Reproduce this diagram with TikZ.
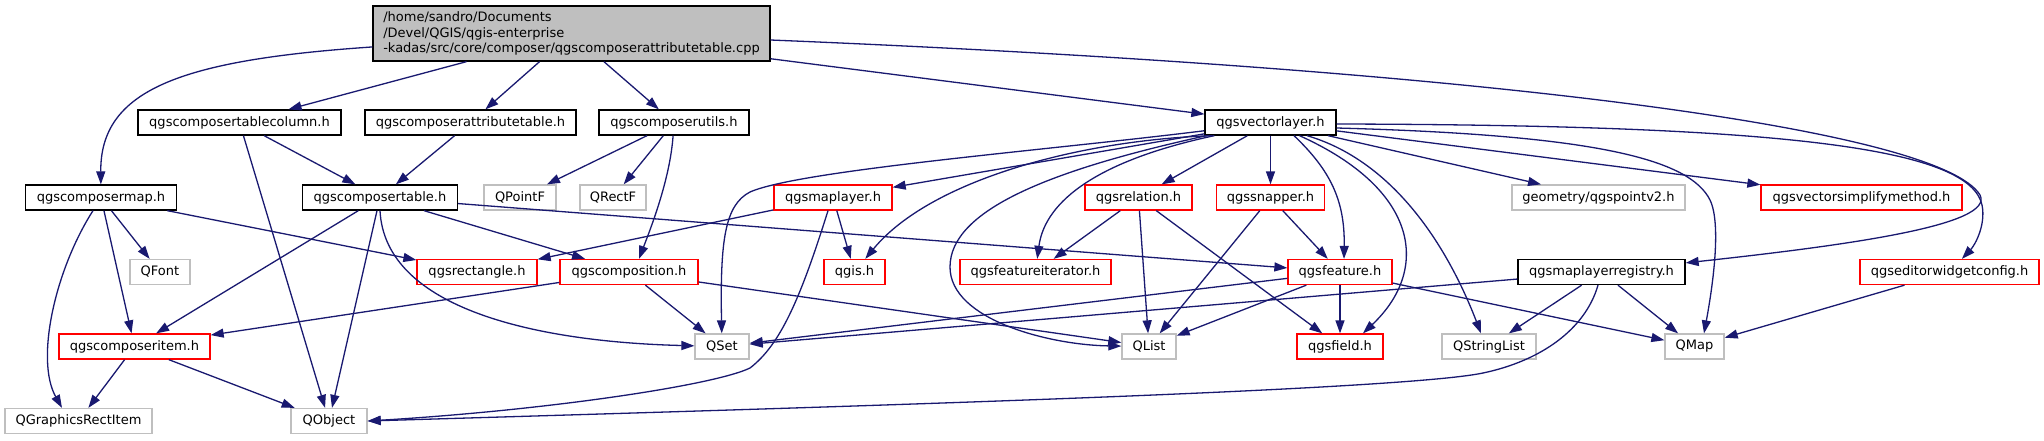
\documentclass[tikz,border=0pt]{standalone}
\usepackage{fontspec}
\setmainfont{DejaVu Sans}
\usetikzlibrary{arrows.meta,calc}
\definecolor{edgecol}{HTML}{191970}
\definecolor{greyc}{HTML}{BFBFBF}
\definecolor{redc}{HTML}{FF0000}
\begin{document}
\begin{tikzpicture}[x=1pt,y=-1pt,
  nd/.style={draw, line width=1.3pt, fill=white, minimum height=25pt, inner sep=0pt, font=\fontsize{13}{15.5}\selectfont},
  blk/.style={nd, draw=black},
  rd/.style={nd, draw=redc},
  gr/.style={nd, draw=greyc},
  rootnd/.style={nd, draw=black, fill=greyc, minimum width=397pt, minimum height=55pt, align=left},
  e/.style={draw=edgecol, line width=1.3pt, -{Triangle[length=13pt,width=9pt]}}]
\path[use as bounding box, fill=white] (0,0) rectangle (2044,440);

% nodes
\node[rootnd] (root) at (571.5,33.5) {/home/sandro/Documents\\/Devel/QGIS/qgis-enterprise\\-kadas/src/core/composer/qgscomposerattributetable.cpp};
\node[blk, minimum width=203pt] (tcol) at (239.5,122.5) {qgscomposertablecolumn.h};
\node[blk, minimum width=211pt] (attr) at (470.5,122.5) {qgscomposerattributetable.h};
\node[blk, minimum width=150pt] (utils) at (674,122.5) {qgscomposerutils.h};
\node[blk, minimum width=131pt] (vlayer) at (1270.5,122.5) {qgsvectorlayer.h};

\node[blk, minimum width=151pt] (cmap) at (101,197.5) {qgscomposermap.h};
\node[blk, minimum width=155pt] (ctable) at (380,197.5) {qgscomposertable.h};
\node[gr, minimum width=72pt] (QPointF) at (520,197.5) {QPointF};
\node[gr, minimum width=66pt] (QRectF) at (613,197.5) {QRectF};
\node[rd, minimum width=118pt] (maplayer) at (833,197.5) {qgsmaplayer.h};
\node[rd, minimum width=107pt] (relation) at (1138.5,197.5) {qgsrelation.h};
\node[rd, minimum width=108pt] (snapper) at (1270.5,197.5) {qgssnapper.h};
\node[gr, minimum width=173pt] (pointv2) at (1598.5,197.5) {geometry/qgspointv2.h};
\node[rd, minimum width=201pt] (simplify) at (1861.5,197.5) {qgsvectorsimplifymethod.h};

\node[gr, minimum width=60pt] (QFont) at (160,272) {QFont};
\node[rd, minimum width=120pt] (rect) at (477,272) {qgsrectangle.h};
\node[rd, minimum width=138pt] (composition) at (629,272) {qgscomposition.h};
\node[rd, minimum width=61pt] (qgis) at (854.5,272) {qgis.h};
\node[rd, minimum width=151pt] (fiter) at (1035.5,272) {qgsfeatureiterator.h};
\node[rd, minimum width=104pt] (feature) at (1340,272) {qgsfeature.h};
\node[blk, minimum width=167pt] (registry) at (1601.5,272) {qgsmaplayerregistry.h};
\node[rd, minimum width=179pt] (editor) at (1949.5,272) {qgseditorwidgetconfig.h};

\node[rd, minimum width=151pt] (citem) at (134.5,346.5) {qgscomposeritem.h};
\node[gr, minimum width=54pt] (QSet) at (722,346.5) {QSet};
\node[gr, minimum width=54pt] (QList) at (1149,346.5) {QList};
\node[rd, minimum width=86pt] (field) at (1340,346.5) {qgsfield.h};
\node[gr, minimum width=94pt] (QStringList) at (1489,346.5) {QStringList};
\node[gr, minimum width=59pt] (QMap) at (1694.5,346.5) {QMap};

\node[gr, minimum width=147pt] (QGRI) at (78.5,421) {QGraphicsRectItem};
\node[gr, minimum width=76pt] (QObject) at (329,421) {QObject};

% edges from root
\draw[e] (root) .. controls (180,60) and (100,90) .. (cmap);
\draw[e] (root) -- (tcol);
\draw[e] (root) -- (attr);
\draw[e] (root) -- (utils);
\draw[e] (root) -- (vlayer);
\draw[e] ($(root.east)+(0,6.5)$) .. controls (1500,70) and (1940,130) .. (1980,195) .. controls (1995,225) and (1850,245) .. (registry);

% level 1
\draw[e] (tcol) -- (ctable);
\draw[e] (tcol) -- (QObject);
\draw[e] (attr) -- (ctable);
\draw[e] (utils) -- (QPointF);
\draw[e] (utils) -- (QRectF);
\draw[e] (utils) .. controls (670,180) and (650,230) .. ($(composition.north)+(10,0)$);

% composermap
\draw[e] (cmap) -- (QFont);
\draw[e] (cmap) -- (rect);
\draw[e] (cmap) -- (citem);
\draw[e] ($(cmap.south)+(-8,0)$) .. controls (55,270) and (35,360) .. ($(QGRI.north)+(-16.5,0)$);

% composertable
\draw[e] (ctable) -- (citem);
\draw[e] (ctable) -- (QObject);
\draw[e] (ctable.south) .. controls (385,310) and (540,342) .. (QSet);
\draw[e] (ctable) -- (composition);
\draw[e] (ctable) -- (feature);

% composition
\draw[e] (composition) -- (citem);
\draw[e] (composition) -- (QSet);
\draw[e] (composition) -- (QList);

% composeritem
\draw[e] (citem) -- (QGRI);
\draw[e] (citem) -- (QObject);

% maplayer
\draw[e] (maplayer) -- (rect);
\draw[e] (maplayer) -- (qgis);
\draw[e] ($(maplayer.south)+(-5,0)$) .. controls (800,300) and (780,345) .. (750,368) .. controls (715,385) and (550,410) .. (QObject.east);

% vectorlayer
\draw[e] (vlayer) .. controls (1050,150) and (800,170) .. (750,192) .. controls (725,205) and (720,240) .. (QSet);
\draw[e] (vlayer) -- (maplayer);
\draw[e] ($(vlayer.south west)+(8,0)$) .. controls (1080,140) and (930,180) .. (qgis);
\draw[e] ($(vlayer.south west)+(2,0)$) .. controls (1050,170) and (950,210) .. (950,267) .. controls (950,320) and (1050,345) .. (QList);
\draw[e] ($(vlayer.south west)+(10,0)$) .. controls (1100,160) and (1045,200) .. (fiter);
\draw[e] (vlayer) -- (relation);
\draw[e] (vlayer) -- (snapper);
\draw[e] ($(vlayer.south)+(23.5,0)$) .. controls (1330,170) and (1345,200) .. ($(feature.north)+(4,0)$);
\draw[e] ($(vlayer.south)+(29,0)$) .. controls (1420,190) and (1430,270) .. ($(field.north)+(23,0)$);
\draw[e] (vlayer) -- (pointv2);
\draw[e] ($(vlayer.south)+(36.5,0)$) .. controls (1390,160) and (1445,240) .. ($(QStringList.north)+(-8,0)$);
\draw[e] (vlayer) -- (simplify);
\draw[e] ($(vlayer.east)+(0,5.5)$) .. controls (1600,135) and (1690,160) .. (1710,200) .. controls (1722,225) and (1712,290) .. ($(QMap.north)+(9.5,0)$);
\draw[e] ($(vlayer.east)+(0,1.5)$) .. controls (1800,125) and (1970,150) .. (1982,205) .. controls (1986,225) and (1975,245) .. (editor);

% relation, snapper
\draw[e] (relation) -- (fiter);
\draw[e] (relation) -- (QList);
\draw[e] (relation) -- (field);
\draw[e] (snapper) -- (QList);
\draw[e] (snapper) -- (feature);

% feature
\draw[e] (feature) -- (QSet);
\draw[e] (feature) -- (QList);
\draw[e] (feature) -- (field);
\draw[e] (feature) -- (QMap);

% registry
\draw[e] (registry) -- (QSet);
\draw[e] (registry) -- (QStringList);
\draw[e] (registry) -- (QMap);
\draw[e] ($(registry.south)+(-3.5,0)$) .. controls (1585,330) and (1540,361) .. (1483,373) .. controls (1398,391) and (800,408) .. (QObject.east);

% editor
\draw[e] (editor) -- (QMap);
\end{tikzpicture}
\end{document}
